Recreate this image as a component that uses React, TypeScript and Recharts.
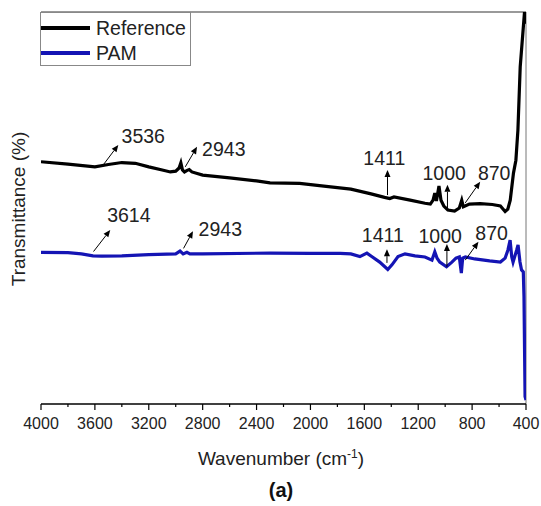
import { LineChart, Line, XAxis, YAxis, ReferenceLine, ReferenceDot } from 'recharts';

// wavenumber (cm-1) and transmittance
const refWn = [4000, 3800, 3600, 3500, 3400, 3300, 3200, 3100, 3040, 3000, 2975, 2962, 2950, 2935, 2915, 2900, 2880, 2800, 2600, 2400, 2300, 2080, 1900, 1700, 1550, 1450, 1411, 1380, 1260, 1150, 1110, 1090, 1077, 1065, 1046, 1031, 1010, 980, 930, 895, 877, 865, 820, 740, 650, 590, 555, 535, 517, 493, 475, 460, 443, 411, 400];
const refT = [61.8, 61.2, 60.5, 61.1, 61.6, 61.4, 60.5, 59.7, 59.2, 59.4, 60.2, 61.5, 59.7, 59.2, 59.6, 59.8, 59.2, 58.4, 57.7, 56.9, 56.4, 56.3, 55.6, 54.8, 53.6, 52.7, 52.4, 52.8, 52.0, 51.2, 51.0, 52.0, 53.8, 51.8, 55.6, 52.0, 50.5, 49.5, 49.2, 50.0, 52.0, 50.3, 51.0, 51.1, 50.9, 50.5, 49.1, 49.7, 52.0, 58.9, 62.2, 69.9, 86.0, 100, 97];

const pamWn = [4000, 3800, 3700, 3614, 3550, 3400, 3200, 3000, 2968, 2945, 2917, 2895, 2800, 2300, 2000, 1780, 1700, 1633, 1581, 1540, 1486, 1426, 1395, 1350, 1298, 1224, 1150, 1098, 1077, 1060, 1040, 990, 950, 920, 895, 880, 870, 850, 780, 670, 590, 555, 534, 518, 506, 496, 469, 459, 445, 433, 420, 415, 407, 400];
const pamT = [38.7, 38.6, 38.3, 37.8, 37.7, 37.8, 38.1, 38.3, 39.0, 38.3, 38.7, 38.3, 38.3, 38.5, 38.4, 38.4, 38.3, 37.6, 38.5, 37.5, 36.2, 34.3, 35.5, 37.6, 38.3, 37.8, 37.5, 36.7, 38.8, 37.2, 36.2, 35.0, 36.2, 37.2, 37.5, 33.4, 37.2, 37.5, 37.0, 36.5, 36.2, 37.2, 39.3, 41.8, 37.6, 36.2, 39.3, 40.6, 36.3, 34.2, 33.7, 27.4, 1.9, 1.0];

const xTicks = [4000, 3800, 3600, 3400, 3200, 3000, 2800, 2600, 2400, 2200, 2000, 1800, 1600, 1400, 1200, 1000, 800, 600, 400];

const seriesNames = ['Reference', 'PAM'];
const seriesColors = ['#000000', '#1414b4'];

// peak labels: arrow tail, arrow head and text centre, in (wavenumber, transmittance)
const annotations = [
  { label: '3536', tail: [3538, 61.0], head: [3426, 66.1], text: [3241, 68.4] },
  { label: '2943', tail: [2929, 60.5], head: [2842, 65.6], text: [2643, 65.1] },
  { label: '1411', tail: [1428, 53.3], head: [1428, 59.7], text: [1452, 62.8] },
  { label: '1000', tail: [983, 49.5], head: [983, 55.9], text: [1007, 59.0] },
  { label: '870', tail: [851, 51.3], head: [740, 56.7], text: [636, 59.0] },
  { label: '3614', tail: [3610, 38.9], head: [3486, 44.4], text: [3348, 48.2] },
  { label: '2943', tail: [2942, 39.7], head: [2872, 44.1], text: [2669, 44.6] },
  { label: '1411', tail: [1432, 36.0], head: [1432, 39.5], text: [1463, 43.1] },
  { label: '1000', tail: [987, 35.0], head: [987, 40.8], text: [1037, 42.9] },
  { label: '870', tail: [851, 36.7], head: [753, 41.4], text: [655, 43.7] },
];

const refData = refWn.map((w, i) => ({ wn: w, t: refT[i] }));
const pamData = pamWn.map((w, i) => ({ wn: w, t: pamT[i] }));

const font = 'Arial, "Liberation Sans", sans-serif';

const Arrow = (props: any) => {
  const { x1, y1, x2, y2 } = props;
  const ang = Math.atan2(y2 - y1, x2 - x1);
  const len = 7;
  const w = 3;
  const bx = x2 - len * Math.cos(ang);
  const by = y2 - len * Math.sin(ang);
  const px = -Math.sin(ang) * w;
  const py = Math.cos(ang) * w;
  return (
    <g>
      <line x1={x1} y1={y1} x2={bx} y2={by} stroke='#000' strokeWidth={1} />
      <polygon points={`${x2},${y2} ${bx + px},${by + py} ${bx - px},${by - py}`} fill='#000' />
    </g>
  );
};

const XTick = (props: any) => {
  const { x, y, payload } = props;
  const major = payload.value % 400 === 0;
  return (
    <g>
      <line x1={x} y1={y} x2={x} y2={y + (major ? 6 : 3)} stroke='#000' strokeWidth={1.2} />
      {major && (
        <text x={x} y={y + 25} textAnchor='middle' fontSize={16} fontFamily={font} fill='#222'>
          {payload.value}
        </text>
      )}
    </g>
  );
};

const App = () => {
  return (
    <div style={{ position: 'absolute', left: 0, top: 0, width: 541, height: 506, background: '#fff' }}>
      <LineChart width={541} height={506} margin={{ top: 12, right: 15, left: 41, bottom: 72 }}>
        <XAxis
          dataKey='wn'
          type='number'
          domain={[400, 4000]}
          reversed
          ticks={xTicks}
          interval={0}
          tickSize={0}
          tickMargin={0}
          tickLine={false}
          tick={<XTick />}
          height={30}
          axisLine={{ stroke: '#000', strokeWidth: 1.5 }}
          allowDataOverflow
        />
        <YAxis
          type='number'
          domain={[0, 100]}
          tick={false}
          width={0}
          axisLine={{ stroke: '#000', strokeWidth: 1.5 }}
          allowDataOverflow
        />
        <ReferenceLine y={100} stroke='#777' strokeWidth={1.5} />
        <ReferenceLine x={400} stroke='#777' strokeWidth={1} />
        <Line data={refData} dataKey='t' stroke={seriesColors[0]} strokeWidth={3.2} dot={false} isAnimationActive={false} />
        <Line data={pamData} dataKey='t' stroke={seriesColors[1]} strokeWidth={3.2} dot={false} isAnimationActive={false} />
        {annotations.map((a, i) => (
          <ReferenceLine
            key={'a' + i}
            segment={[{ x: a.tail[0], y: a.tail[1] }, { x: a.head[0], y: a.head[1] }]}
            ifOverflow='visible'
            shape={(p: any) => <Arrow {...p} />}
          />
        ))}
        {annotations.map((a, i) => (
          <ReferenceDot
            key={'t' + i}
            x={a.text[0]}
            y={a.text[1]}
            r={0}
            ifOverflow='visible'
            shape={(p: any) => (
              <text x={p.cx} y={p.cy} dy={7} textAnchor='middle' fontSize={19.5} fontFamily={font} fill='#222'>
                {a.label}
              </text>
            )}
          />
        ))}
      </LineChart>

      <div
        style={{
          position: 'absolute', left: 40, top: 12, width: 151, height: 54, boxSizing: 'border-box',
          border: '1px solid #888', background: '#fff', fontFamily: font, fontSize: 19.5, color: '#222',
        }}
      >
        {seriesNames.map((n, i) => (
          <div key={n} style={{ position: 'absolute', left: 0, top: i === 0 ? 3 : 28, height: 24, display: 'flex', alignItems: 'center' }}>
            <div style={{ width: 49, height: 4, background: seriesColors[i] }} />
            <span style={{ marginLeft: 6, lineHeight: '24px' }}>{n}</span>
          </div>
        ))}
      </div>

      <div
        style={{
          position: 'absolute', left: 18, top: 209, transform: 'translate(-50%, -50%) rotate(-90deg)',
          whiteSpace: 'nowrap', fontFamily: font, fontSize: 19, color: '#222', lineHeight: 1,
        }}
      >
        Transmittance (%)
      </div>
      <div
        style={{
          position: 'absolute', left: 281, top: 458, transform: 'translate(-50%, -50%)',
          whiteSpace: 'nowrap', fontFamily: font, fontSize: 19, color: '#222', lineHeight: 1,
        }}
      >
        Wavenumber (cm<sup style={{ fontSize: 12 }}>-1</sup>)
      </div>
      <div
        style={{
          position: 'absolute', left: 281, top: 490, transform: 'translate(-50%, -50%)',
          whiteSpace: 'nowrap', fontFamily: font, fontSize: 20, fontWeight: 'bold', color: '#111', lineHeight: 1,
        }}
      >
        (a)
      </div>
    </div>
  );
};

export default App;
